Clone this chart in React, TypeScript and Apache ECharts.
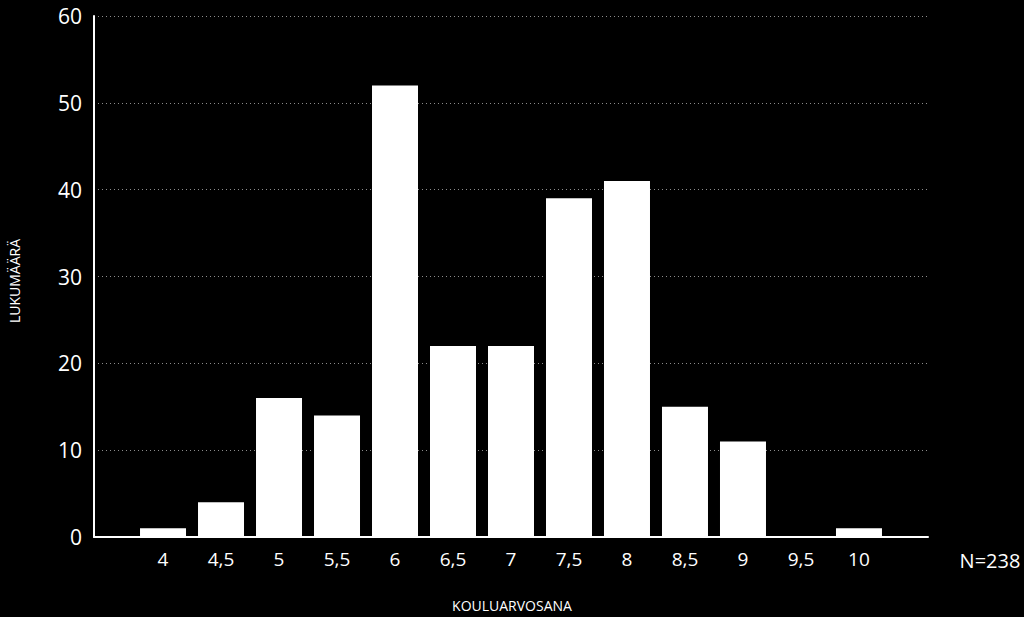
import React, { useEffect, useRef } from "react";
import * as echarts from "echarts";

const grades = [4, 4.5, 5, 5.5, 6, 6.5, 7, 7.5, 8, 8.5, 9, 9.5, 10];
const counts = [1, 4, 16, 14, 52, 22, 22, 39, 41, 15, 11, 0, 1];
const yTicks = [0, 10, 20, 30, 40, 50, 60];
const xTitle = "KOULUARVOSANA";
const yTitle = "LUKUMÄÄRÄ";
const nText = "N=238";

const FONT = "'Open Sans', 'DejaVu Sans', sans-serif";

export default function App() {
  const ref = useRef<HTMLDivElement>(null);
  useEffect(() => {
    if (!ref.current) return;
    const chart = echarts.init(ref.current, undefined, { renderer: "svg" });
    chart.setOption({
      animation: false,
      backgroundColor: "#000000",
      grid: { left: 94, right: 96, top: 16, bottom: 80, containLabel: false },
      xAxis: {
        type: "value",
        min: 3.405,
        max: 10.595,
        splitLine: { show: false },
        axisLine: { show: true, onZero: false, lineStyle: { color: "#ffffff", width: 2 } },
        axisTick: { show: false },
        axisLabel: {
          show: true,
          customValues: grades,
          color: "#ffffff",
          fontSize: 19,
          fontFamily: FONT,
          margin: 12,
          formatter: (v: number) => String(v).replace(".", ","),
        },
      },
      yAxis: {
        type: "value",
        min: yTicks[0],
        max: yTicks[yTicks.length - 1],
        interval: 10,
        axisLine: { show: true, lineStyle: { color: "#ffffff", width: 2 } },
        axisTick: { show: false },
        axisLabel: { color: "#ffffff", fontSize: 21, fontFamily: FONT, margin: 12 },
        splitLine: { show: true, lineStyle: { color: "#8c8c8c", type: [1, 3], width: 1 } },
      },
      graphic: [
        {
          type: "text",
          x: 512,
          y: 605,
          style: {
            text: xTitle,
            fill: "#ffffff",
            font: `14px ${FONT}`,
            align: "center",
            verticalAlign: "middle",
          },
        },
        {
          type: "text",
          x: 14,
          y: 281,
          rotation: Math.PI / 2,
          style: {
            text: yTitle,
            fill: "#ffffff",
            font: `14px ${FONT}`,
            align: "center",
            verticalAlign: "middle",
          },
        },
        {
          type: "text",
          x: 990,
          y: 560,
          style: {
            text: nText,
            fill: "#ffffff",
            font: `20px ${FONT}`,
            align: "center",
            verticalAlign: "middle",
          },
        },
      ],
      series: [
        {
          type: "bar",
          data: grades.map((g, i) => [g, counts[i]]),
          barWidth: 46,
          itemStyle: { color: "#ffffff" },
          silent: true,
        },
      ],
    });
    return () => chart.dispose();
  }, []);
  return <div ref={ref} style={{ width: 1024, height: 617, position: "fixed", left: 0, top: 0 }} />;
}
